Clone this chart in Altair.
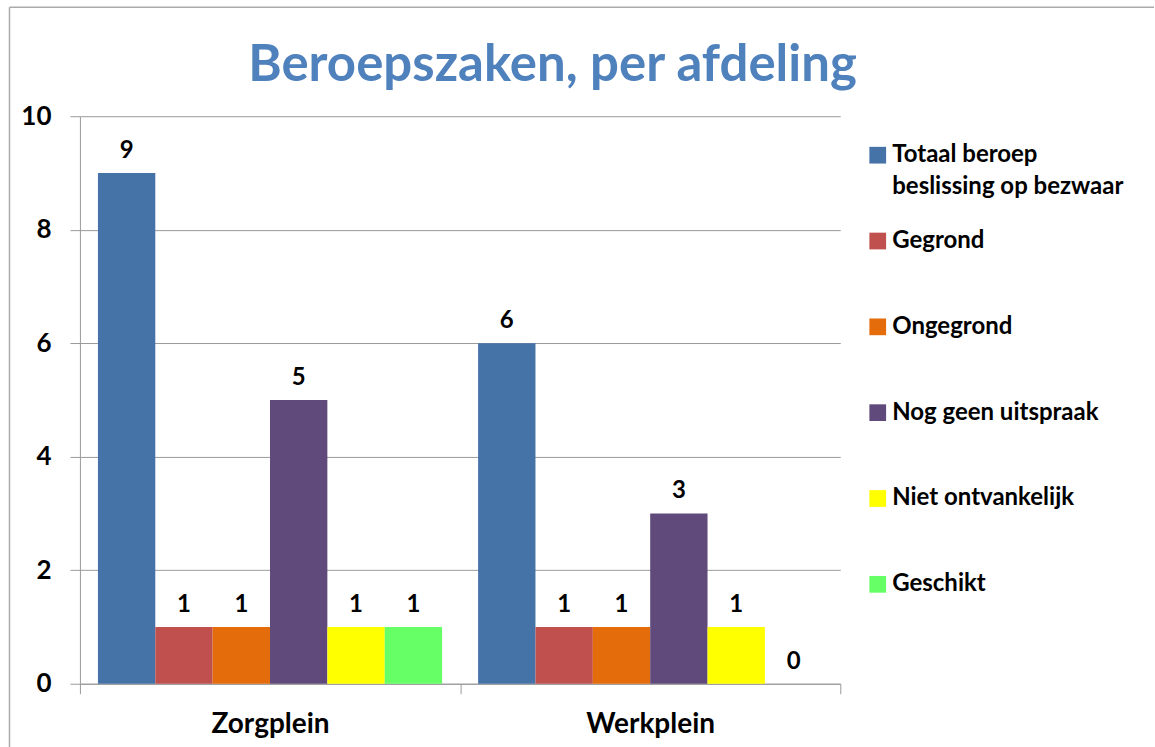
import altair as alt
import pandas as pd

# Afdelingen en reeksen
afdelingen = ["Zorgplein", "Werkplein"]
reeksen = [
    "Totaal beroep beslissing op bezwaar",
    "Gegrond",
    "Ongegrond",
    "Nog geen uitspraak",
    "Niet ontvankelijk",
    "Geschikt",
]
legenda_teksten = [
    "Totaal beroep\nbeslissing op bezwaar",
    "Gegrond",
    "Ongegrond",
    "Nog geen uitspraak",
    "Niet ontvankelijk",
    "Geschikt",
]
kleuren = ["#4572A7", "#C0504D", "#E46C0A", "#604A7B", "#FFFF00", "#66FF66"]

# Aantallen per reeks
zorgplein = [9, 1, 1, 5, 1, 1]
werkplein = [6, 1, 1, 3, 1, 0]

y_ticks = [0, 2, 4, 6, 8, 10]

titel = "Beroepszaken, per afdeling"

rows = []
for afd, waarden in zip(afdelingen, [zorgplein, werkplein]):
    for reeks, w in zip(reeksen, waarden):
        rows.append({"afdeling": afd, "reeks": reeks, "aantal": w})
df = pd.DataFrame(rows)

leg_df = pd.DataFrame({"reeks": reeksen, "tekst": legenda_teksten})

FONT = "Lato"
GRID = "#9a9a9a"
FRAME = "#ababab"

kleur = alt.Color(
    "reeks:N", sort=reeksen,
    scale=alt.Scale(domain=reeksen, range=kleuren), legend=None,
)

base = alt.Chart(df).encode(
    x=alt.X(
        "afdeling:N", sort=afdelingen,
        scale=alt.Scale(paddingInner=0, paddingOuter=0),
        axis=alt.Axis(
            title=None, labelAngle=0, tickBand="extent", ticks=True,
            tickSize=10, tickColor=GRID, domainColor=GRID,
            labelFont=FONT, labelFontSize=28, labelFontWeight="bold",
            labelColor="black", labelPadding=17,
        ),
    ),
    xOffset=alt.XOffset(
        "reeks:N", sort=reeksen,
        scale=alt.Scale(paddingInner=0, paddingOuter=0.314),
    ),
    y=alt.Y(
        "aantal:Q",
        scale=alt.Scale(domain=[0, 10], nice=False),
        axis=alt.Axis(
            title=None, values=y_ticks, grid=True, gridColor=GRID,
            tickSize=10, tickColor=GRID, domainColor=GRID,
            labelFont=FONT, labelFontSize=26, labelFontWeight="bold",
            labelColor="black", labelPadding=19,
        ),
    ),
)

bars = base.mark_bar().encode(color=kleur)

waarden = base.mark_text(
    baseline="alphabetic", dy=-15, font=FONT, fontSize=24,
    fontWeight="bold", color="black",
).encode(text="aantal:Q")

staafdiagram = alt.layer(bars, waarden)

# Legenda rechts van het plotgebied
leg_y = alt.Y(
    "reeks:N", sort=reeksen,
    scale=alt.Scale(type="point", domain=reeksen, range=[39, 468.5], padding=0),
    axis=None,
)
leg_blokjes = alt.Chart(leg_df).mark_square(size=280, opacity=1).encode(
    x=alt.value(798.5), y=leg_y, color=kleur,
)
leg_teksten = alt.Chart(leg_df).mark_text(
    align="left", baseline="top", dy=-12, lineBreak="\n", lineHeight=32,
    font=FONT, fontSize=24, fontWeight="bold", color="black",
).encode(x=alt.value(813), y=leg_y, text="tekst:N")
legenda = alt.layer(leg_blokjes, leg_teksten)

een = pd.DataFrame({"k": [0]})

# Titel boven het diagram
titel_tekst = alt.Chart(een).mark_text(
    text=titel, font=FONT, fontSize=51, fontWeight="bold",
    color="#4F81BD", align="center", baseline="alphabetic",
).encode(x=alt.value(473), y=alt.value(-35))

# Kader links en boven
kader_links = alt.Chart(een).mark_rule(color=FRAME, strokeWidth=1.5).encode(
    x=alt.value(-70.5), y=alt.value(-109), y2=alt.value(640),
)
kader_boven = alt.Chart(een).mark_rule(color=FRAME, strokeWidth=1.5).encode(
    x=alt.value(-70.5), x2=alt.value(1075), y=alt.value(-109),
)

chart = (
    alt.layer(staafdiagram, legenda, titel_tekst, kader_links, kader_boven)
    .resolve_scale(y="independent")
    .properties(
        width=761,
        height=568,
        padding={"left": 8, "top": 6, "right": 0, "bottom": 0},
    )
    .configure_view(stroke=None)
)

chart.save("out.html", embed_options={"renderer": "svg", "actions": False})
